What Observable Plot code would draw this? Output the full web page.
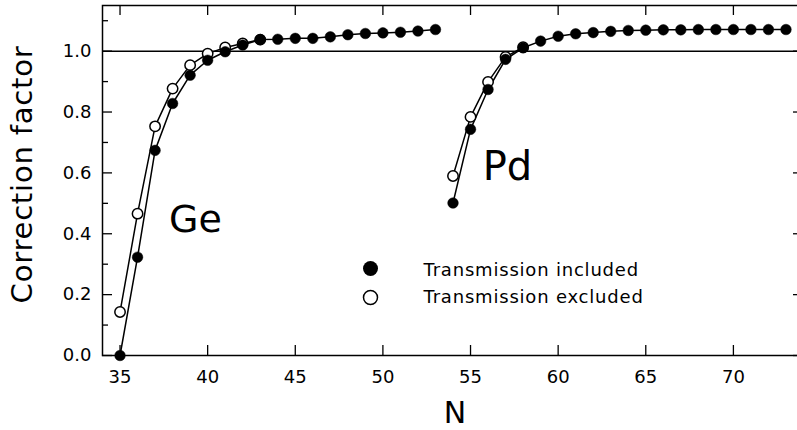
<!DOCTYPE html>
<html><head><meta charset="utf-8">
<script src="https://cdn.jsdelivr.net/npm/d3@7"></script>
<script src="https://cdn.jsdelivr.net/npm/@observablehq/plot@0.6"></script>
<style>
html,body{margin:0;padding:0;background:#fff;overflow:hidden}
svg{font-family:"DejaVu Sans",sans-serif}
</style></head><body><div id="chart"></div>
<script>
// Ge (Z=32) series
const geN = [35,36,37,38,39,40,41,42,43,44,45,46,47,48,49,50,51,52,53];
const geIncluded = [0.0,0.323,0.674,0.828,0.921,0.970,0.998,1.020,1.038,1.039,1.042,1.042,1.047,1.054,1.058,1.060,1.062,1.066,1.071];
const geExcludedN = [35,36,37,38,39,40,41,42,43];
const geExcluded = [0.143,0.466,0.753,0.877,0.954,0.992,1.012,1.025,1.038];
// Pd (Z=46) series
const pdN = [54,55,56,57,58,59,60,61,62,63,64,65,66,67,68,69,70,71,72,73];
const pdIncluded = [0.501,0.743,0.874,0.973,1.011,1.033,1.049,1.057,1.061,1.065,1.068,1.069,1.070,1.070,1.071,1.071,1.071,1.071,1.071,1.071];
const pdExcludedN = [54,55,56,57,58];
const pdExcluded = [0.590,0.784,0.899,0.981,1.013];
// ticks & labels
const xTicks = [35,40,45,50,55,60,65,70];
const yTicks = [0,0.2,0.4,0.6,0.8,1.0];
const yMinorTicks = [0.1,0.3,0.5,0.7,0.9,1.1];
const legendLabels = ["Transmission included","Transmission excluded"];
const elementLabels = ["Ge","Pd"];
const xLabel = "N";
const yLabel = "Correction factor";

const rows = [];
geN.forEach((n,i)=>rows.push({N:n, v:geIncluded[i], s:"inc", el:"Ge"}));
geExcludedN.forEach((n,i)=>rows.push({N:n, v:geExcluded[i], s:"exc", el:"Ge"}));
pdN.forEach((n,i)=>rows.push({N:n, v:pdIncluded[i], s:"inc", el:"Pd"}));
pdExcludedN.forEach((n,i)=>rows.push({N:n, v:pdExcluded[i], s:"exc", el:"Pd"}));
const inc = rows.filter(d=>d.s==="inc");
const exc = rows.filter(d=>d.s==="exc");

const W = 797, H = 430, mL = 102, mR = -6, mT = 5, mB = 75;
const fw = W - mL - mR, fh = H - mT - mB;
const legendStyle = {letterSpacing: "0.6px"};

const chart = Plot.plot({
  width: W, height: H,
  marginLeft: mL, marginRight: mR, marginTop: mT, marginBottom: mB,
  style: {fontFamily: "DejaVu Sans, sans-serif", background: "#fff", overflow: "hidden"},
  x: {domain: [34, 74]},
  y: {domain: [0, 1.15]},
  marks: [
    Plot.ruleY([1], {stroke: "#000", strokeWidth: 1.5}),
    // inward ticks
    Plot.ruleX(xTicks, {x: d=>d, insetTop: fh-10, stroke:"#000", strokeWidth:1.3}),
    Plot.ruleX(xTicks, {x: d=>d, insetBottom: fh-10, stroke:"#000", strokeWidth:1.3}),
    Plot.ruleY(yTicks, {y: d=>d, insetRight: fw-10, stroke:"#000", strokeWidth:1.3}),
    Plot.ruleY(yMinorTicks, {y: d=>d, insetRight: fw-6, stroke:"#000", strokeWidth:1.3}),
    Plot.ruleY(yTicks, {y: d=>d, insetLeft: fw-10, stroke:"#000", strokeWidth:1.3}),
    Plot.ruleY(yMinorTicks, {y: d=>d, insetLeft: fw-6, stroke:"#000", strokeWidth:1.3}),
    Plot.frame({stroke:"#000", strokeWidth:1.5}),
    Plot.axisX(xTicks, {tickSize: 0, tickPadding: 15, fontSize: 18, label: null, fill:"#000"}),
    Plot.axisY(yTicks, {tickSize: 0, tickPadding: 11, fontSize: 18, label: null, tickFormat: d3.format(".1f"), fill:"#000"}),
    // lines
    Plot.line(exc, {x:"N", y:"v", z:"el", stroke:"#000", strokeWidth:1.5}),
    Plot.line(inc, {x:"N", y:"v", z:"el", stroke:"#000", strokeWidth:1.5}),
    Plot.dot(exc, {x:"N", y:"v", r:5.2, fill:"#fff", stroke:"#000", strokeWidth:1.5}),
    Plot.dot(inc, {x:"N", y:"v", r:5.3, fill:"#000", stroke:"#000", strokeWidth:0.5}),
    // labels
    Plot.text([xLabel], {frameAnchor:"bottom", lineAnchor:"middle", dx: 2, dy: 58, fontSize: 30, fill:"#000"}),
    Plot.text([yLabel], {frameAnchor:"left", textAnchor:"middle", lineAnchor:"middle", dx: -80, dy: -6, rotate: -90, fontSize: 29, fill:"#000"}),
    Plot.text([elementLabels[0]], {frameAnchor:"top-left", textAnchor:"middle", lineAnchor:"middle", dx: 93, dy: 214, fontSize: 38, fill:"#000"}),
    Plot.text([elementLabels[1]], {frameAnchor:"top-left", textAnchor:"middle", lineAnchor:"middle", dx: 405, dy: 162, fontSize: 40, fill:"#000"}),
    // legend
    Plot.dot([legendLabels[0]], {frameAnchor:"top-left", dx: 268, dy: 263, r: 7.5, fill:"#000"}),
    Plot.dot([legendLabels[1]], {frameAnchor:"top-left", dx: 268, dy: 292, r: 7, fill:"#fff", stroke:"#000", strokeWidth:1.5}),
    Plot.text([legendLabels[0]], {frameAnchor:"top-left", lineAnchor:"middle", dx: 321, dy: 265, textAnchor:"start", fontSize: 18, fill:"#000", style: legendStyle}),
    Plot.text([legendLabels[1]], {frameAnchor:"top-left", lineAnchor:"middle", dx: 321, dy: 292, textAnchor:"start", fontSize: 18, fill:"#000", style: legendStyle})
  ]
});
chart.querySelectorAll("text").forEach(t => {
  const s = t.textContent;
  if (s.startsWith("Transmission")) t.setAttribute("letter-spacing", "0.8");
  if (s === yLabel) t.setAttribute("letter-spacing", "0.8");
});
document.getElementById("chart").appendChild(chart);
</script></body></html>
